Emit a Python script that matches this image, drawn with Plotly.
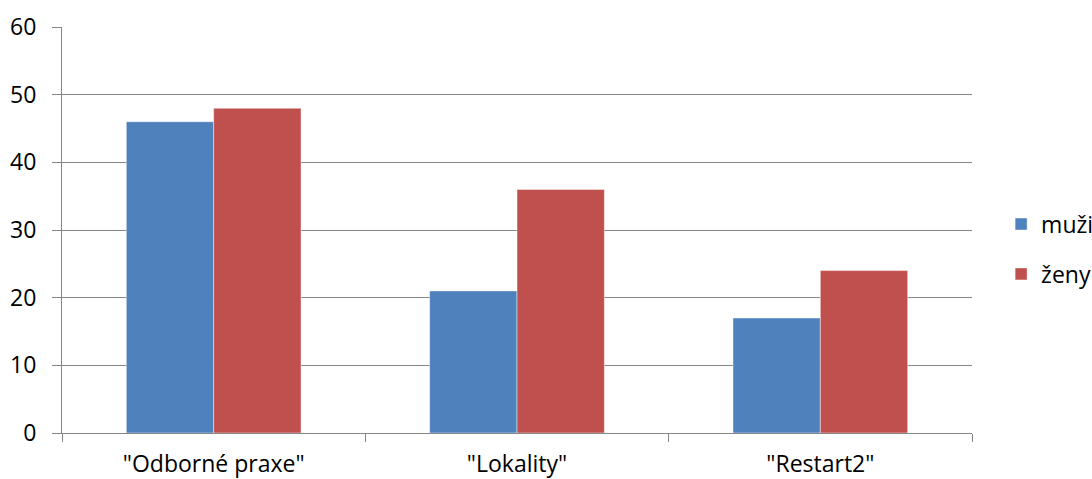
import plotly.graph_objects as go

# Data
categories = ['"Odborné praxe"', '"Lokality"', '"Restart2"']
muzi = [46, 21, 17]
zeny = [48, 36, 24]

BLUE = "#4F81BD"
RED = "#C0504D"
GRID = "#868686"
FONT = "Open Sans"
FSIZE = 23

fig = go.Figure()
fig.add_trace(go.Bar(
    x=categories, y=muzi, name="muži", legendgroup="m",
    marker=dict(color=BLUE, line=dict(color="rgba(255,255,255,0.45)", width=1)),
))
fig.add_trace(go.Bar(
    x=categories, y=zeny, name="ženy", legendgroup="z",
    marker=dict(color=RED, line=dict(color="rgba(255,255,255,0.45)", width=1)),
))

fig.update_layout(
    width=1092, height=479,
    margin=dict(l=62, r=120, t=27, b=46, autoexpand=False),
    paper_bgcolor="white", plot_bgcolor="white",
    barmode="group", bargap=0.424, bargroupgap=0,
    font=dict(family=FONT, size=FSIZE, color="#000000"),
    legend=dict(
        x=1.032, y=0.453, xanchor="left", yanchor="middle",
        font=dict(family=FONT, size=FSIZE, color="#000000"),
        bgcolor="rgba(0,0,0,0)", itemwidth=30,
        tracegroupgap=17, traceorder="grouped",
        itemclick=False, itemdoubleclick=False,
    ),
    xaxis=dict(
        showline=True, linecolor=GRID, linewidth=1,
        ticks="outside", tickson="boundaries", ticklen=8, tickcolor=GRID,
        showgrid=False, tickfont=dict(family=FONT, size=FSIZE, color="#000000"),
        ticklabelstandoff=10,
    ),
    yaxis=dict(
        range=[0, 60], dtick=10, showline=True, linecolor=GRID, linewidth=1,
        ticks="outside", ticklen=9, tickcolor=GRID,
        showgrid=True, gridcolor=GRID, gridwidth=1, zeroline=False,
        tickfont=dict(family=FONT, size=FSIZE, color="#000000"),
        ticklabelstandoff=11,
    ),
)

fig.write_html("out.html")
